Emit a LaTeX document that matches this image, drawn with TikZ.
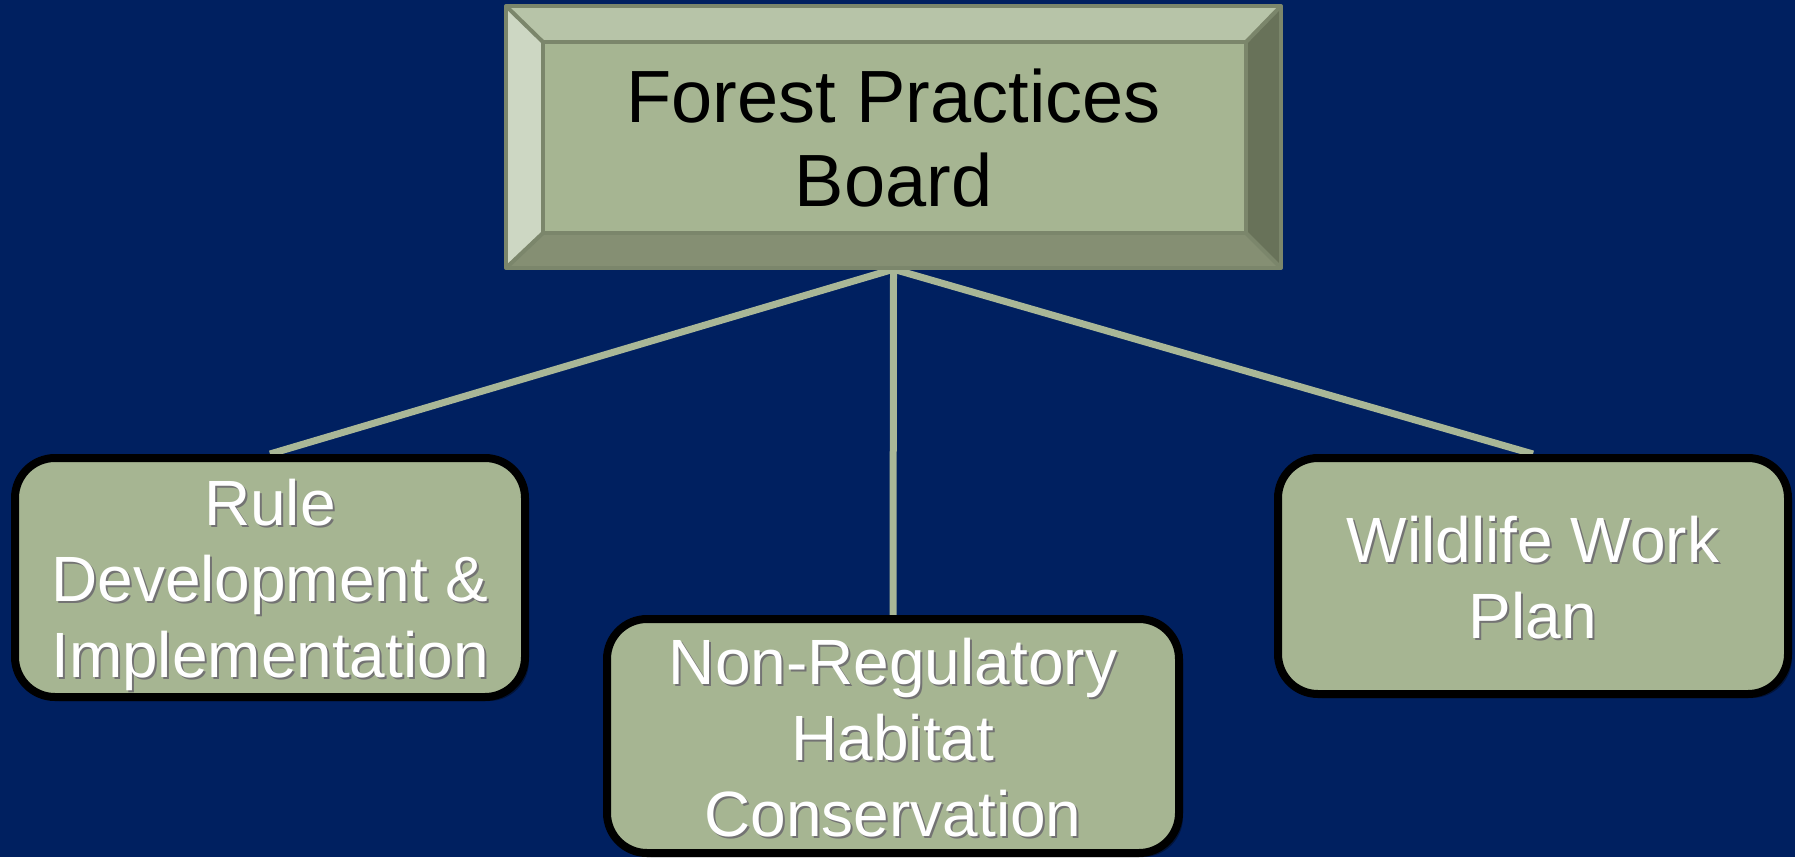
\documentclass[tikz,border=0pt]{standalone}
\usepackage{fontspec}
\setmainfont{Liberation Sans}
\usetikzlibrary{shadows}
\pgfdeclarelayer{lines}
\pgfsetlayers{lines,main}
\definecolor{navy}{HTML}{002060}
\definecolor{sage}{HTML}{A6B592}
\definecolor{sageline}{HTML}{A9B797}
\definecolor{bevtop}{HTML}{B7C4A8}
\definecolor{bevleft}{HTML}{CDD7C3}
\definecolor{bevright}{HTML}{687259}
\definecolor{bevbot}{HTML}{858F73}
\definecolor{bevedge}{HTML}{7B866B}
\newcommand\shtxt[1]{\raisebox{-10pt}[\height][\depth]{\leavevmode\rlap{\raisebox{-2pt}{\hspace{2pt}\color{black!55}\begin{tabular}{@{}c@{}}#1\end{tabular}}}\begin{tabular}{@{}c@{}}#1\end{tabular}}}
\begin{document}
\begin{tikzpicture}[x=1pt,y=-1pt,
  childbox/.style={draw=black, line width=8pt, fill=sage, rounded corners=40pt,
    inner sep=0pt, text=white, font=\fontsize{64}{76}\selectfont,
    drop shadow={shadow xshift=4pt, shadow yshift=-4pt, opacity=0.4, fill=black}},
  conn/.style={draw=sageline, line width=7pt},
  bevel/.style={draw=bevedge, line width=4pt, line join=round}]
\useasboundingbox (0,0) rectangle (1795,857);
\begin{pgfonlayer}{lines}
\fill[navy] (0,0) rectangle (1795,857);
\end{pgfonlayer}

% top bevelled box
\fill[bevtop]   (506,6) -- (1281,6) -- (1246,42) -- (543,42) -- cycle;
\fill[bevleft]  (506,6) -- (543,42) -- (543,233) -- (506,268) -- cycle;
\fill[bevright] (1281,6) -- (1281,268) -- (1246,233) -- (1246,42) -- cycle;
\fill[bevbot]   (506,268) -- (1281,268) -- (1246,233) -- (543,233) -- cycle;
\fill[sage] (543,42) rectangle (1246,233);
\draw[bevel] (506,6) rectangle (1281,268);
\draw[bevel] (543,42) rectangle (1246,233);
\draw[bevel] (506,6) -- (543,42) (1281,6) -- (1246,42) (506,268) -- (543,233) (1281,268) -- (1246,233);
\node[minimum width=775pt, minimum height=262pt, inner sep=0pt, align=center,
  font=\fontsize{74}{84}\selectfont, text=black] (fpb) at (893.5,138)
  {Forest Practices\\Board};

% child boxes
\node[childbox, minimum width=510pt, minimum height=239pt] (rule) at (270,577.5)
  {\shtxt{Rule\\Development \&\\Implementation}};
\node[childbox, minimum width=572pt, minimum height=234pt] (nonreg) at (893,736)
  {\shtxt{Non-Regulatory\\Habitat\\Conservation}};
\node[childbox, minimum width=510pt, minimum height=236pt] (wild) at (1533,576)
  {\shtxt{Wildlife Work\\Plan}};

% connectors
\begin{pgfonlayer}{lines}
\draw[conn] (fpb.south) -- (rule.north);
\draw[conn] (fpb.south) -- (nonreg.north);
\draw[conn] (fpb.south) -- (wild.north);
\end{pgfonlayer}
\end{tikzpicture}
\end{document}
